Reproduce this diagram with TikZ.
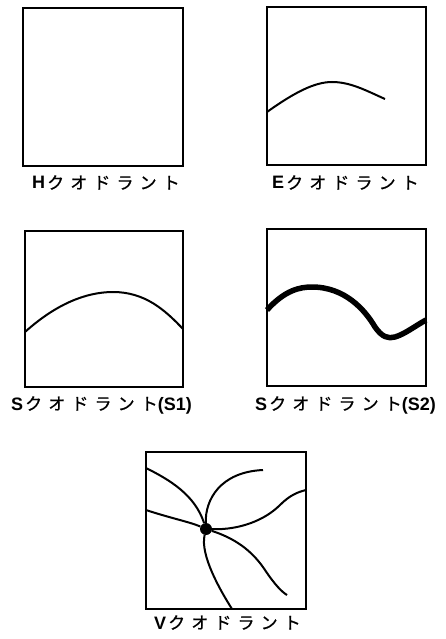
\documentclass[tikz,border=0pt]{standalone}
\usepackage{fontspec}
\setmainfont{Liberation Sans}
\newfontfamily\jpfont[LetterSpace=36,FakeBold=0.8]{Noto Sans CJK JP}
\newcommand{\quadname}[2]{{\fontsize{18}{18}\selectfont\bfseries #1}\hspace{2pt}{\fontsize{17}{17}\jpfont クオドラント}{\fontsize{18}{18}\selectfont\bfseries #2}}

\begin{document}
\begin{tikzpicture}[x=1pt,y=-1pt,
  box/.style={line width=2pt},
  curve/.style={line width=2pt},
  lbl/.style={anchor=base west,inner sep=0pt}]
\useasboundingbox (0,0) rectangle (445,639);
% H
\draw[box] (23,8) rectangle (183,166);
\node[lbl] (lblH) at (32,189) {\quadname{H}{}};
% E
\draw[box] (267,7) rectangle (426,165);
\draw[curve] (267,112) .. controls (295,92) and (315,82) .. (332,82) .. controls (350,82) and (365,90) .. (385,99);
\node[lbl] (lblE) at (272,189) {\quadname{E}{}};
% S1
\draw[box] (25,231) rectangle (183,387);
\draw[curve] (25,332) .. controls (55,305) and (85,292) .. (113,292) .. controls (145,292) and (165,310) .. (183,329);
\node[lbl] (lblS1) at (11,410) {\quadname{S}{(S1)}};
% S2
\draw[box] (267,229) rectangle (426,386);
\draw[line width=5.5pt] (267,310) .. controls (285,290) and (300,287) .. (312,287) .. controls (345,287) and (365,310) .. (375,327) .. controls (382,337) and (388,339) .. (395,337) .. controls (405,334) and (415,326) .. (426,320);
\node[lbl] (lblS2) at (255,410) {\quadname{S}{(S2)}};
% V
\draw[box] (146,452) rectangle (306,609);
\node[circle,fill,inner sep=0pt,minimum size=12pt] (hub) at (206,529) {};
\draw[curve] (146,468) .. controls (170,480) and (195,495) .. (hub);
\draw[curve] (146,510) .. controls (170,518) and (190,522) .. (hub);
\draw[curve] (hub) .. controls (205,500) and (220,472) .. (263,470);
\draw[curve] (hub) .. controls (240,530) and (265,520) .. (280,505) .. controls (290,495) and (298,492) .. (306,490);
\draw[curve] (hub) .. controls (240,540) and (255,555) .. (265,570) .. controls (275,585) and (282,592) .. (287,595);
\draw[curve] (hub) .. controls (200,555) and (220,590) .. (232,609);
\node[lbl] (lblV) at (154,629) {\quadname{V}{}};
\end{tikzpicture}
\end{document}
